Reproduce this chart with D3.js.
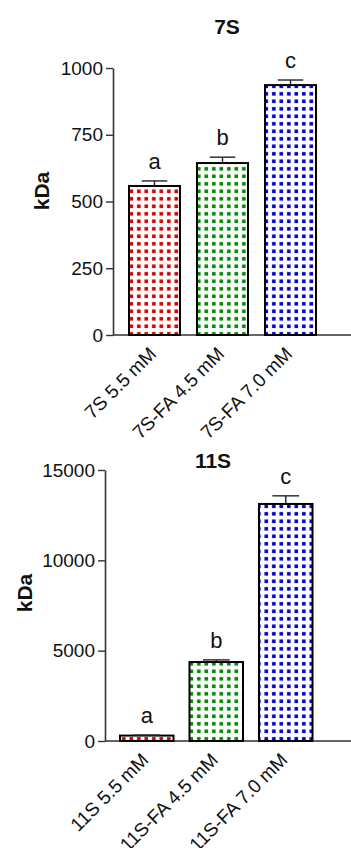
<!DOCTYPE html>
<html>
<head>
<meta charset="utf-8">
<script src="https://cdn.jsdelivr.net/npm/d3@7"></script>
<style>
  body { margin: 0; background: #fff; }
  text { font-family: Arial, "Liberation Sans", sans-serif; fill: #111; }
</style>
</head>
<body>
<svg id="chart" width="351" height="848"></svg>
<script>
// data
const labels7S = ['7S 5.5 mM', '7S-FA 4.5 mM', '7S-FA 7.0 mM'];
const values7S = [558, 644, 936];
const errors7S = [19, 22, 19];
const letters7S = ['a', 'b', 'c'];
const ticks7S = [0, 250, 500, 750, 1000];

const labels11S = ['11S 5.5 mM', '11S-FA 4.5 mM', '11S-FA 7.0 mM'];
const values11S = [300, 4370, 13120];
const errors11S = [25, 120, 450];
const letters11S = ['a', 'b', 'c'];
const ticks11S = [0, 5000, 10000, 15000];

const barColors = ['#d40000', '#008a00', '#0000d2'];

const svg = d3.select('#chart');
const defs = svg.append('defs');

// dotted fill, one pattern per colour
barColors.forEach((c, i) => {
    const p = defs.append('pattern')
        .attr('id', 'dots' + i)
        .attr('patternUnits', 'userSpaceOnUse')
        .attr('width', 7.5).attr('height', 7.5);
    p.append('rect').attr('width', 7.5).attr('height', 7.5).attr('fill', '#fff');
    p.append('rect').attr('x', 2).attr('y', 2).attr('width', 3.6).attr('height', 3.6).attr('fill', c);
});

function drawPanel(cfg) {
    const g = svg.append('g');

    const y = d3.scaleLinear().domain(cfg.domain).range([cfg.y0, cfg.y1]);
    const x = d3.scaleBand().domain(cfg.labels)
        .range(cfg.xr).paddingInner(cfg.pad).paddingOuter(cfg.pad / 2);

    // y axis
    const yAxis = g.append('g')
        .attr('transform', `translate(${cfg.left},0)`)
        .call(d3.axisLeft(y).tickValues(cfg.ticks).tickFormat(d3.format('d'))
            .tickSize(7).tickPadding(3).tickSizeOuter(0));
    yAxis.select('.domain').attr('stroke', '#333').attr('stroke-width', 1.6);
    yAxis.selectAll('.tick line').attr('stroke', '#333').attr('stroke-width', 1.4);
    yAxis.selectAll('.tick text').attr('font-size', 19).attr('fill', '#111')
        .attr('font-family', 'Arial, "Liberation Sans", sans-serif');

    // x axis line
    g.append('line')
        .attr('x1', cfg.left).attr('x2', 351)
        .attr('y1', cfg.y0).attr('y2', cfg.y0)
        .attr('stroke', '#333').attr('stroke-width', 1.6);

    const bars = g.selectAll('.bar').data(cfg.values).enter().append('g');

    bars.append('rect')
        .attr('x', (d, i) => x(cfg.labels[i]))
        .attr('y', d => y(d))
        .attr('width', x.bandwidth())
        .attr('height', d => cfg.y0 - y(d))
        .attr('fill', (d, i) => 'url(#dots' + i + ')')
        .attr('stroke', '#000').attr('stroke-width', 2);

    // error bars (upper only)
    bars.append('line')
        .attr('x1', (d, i) => x(cfg.labels[i]) + x.bandwidth() / 2)
        .attr('x2', (d, i) => x(cfg.labels[i]) + x.bandwidth() / 2)
        .attr('y1', d => y(d))
        .attr('y2', (d, i) => y(d + cfg.errors[i]))
        .attr('stroke', '#222').attr('stroke-width', 1.4);
    bars.append('line')
        .attr('x1', (d, i) => x(cfg.labels[i]) + x.bandwidth() / 4)
        .attr('x2', (d, i) => x(cfg.labels[i]) + x.bandwidth() * 3 / 4)
        .attr('y1', (d, i) => y(d + cfg.errors[i]))
        .attr('y2', (d, i) => y(d + cfg.errors[i]))
        .attr('stroke', '#222').attr('stroke-width', 1.4);

    // significance letters
    bars.append('text')
        .attr('x', (d, i) => x(cfg.labels[i]) + x.bandwidth() / 2)
        .attr('y', (d, i) => y(d + cfg.errors[i]) - 12)
        .attr('text-anchor', 'middle')
        .attr('font-size', 22)
        .text((d, i) => cfg.letters[i]);

    // rotated category labels
    g.selectAll('.xl').data(cfg.labels).enter().append('text')
        .attr('transform', d => `translate(${x(d) + x.bandwidth() / 2 + 3},${cfg.y0 + 20}) rotate(-45)`)
        .attr('text-anchor', 'end')
        .attr('font-size', 19)
        .text(d => d);

    // title
    g.append('text')
        .attr('x', cfg.titleX).attr('y', cfg.titleY)
        .attr('text-anchor', 'middle')
        .attr('font-size', 21).attr('font-weight', 'bold')
        .text(cfg.title);

    // y label
    g.append('text')
        .attr('transform', `translate(${cfg.ylabX},${cfg.ylabY}) rotate(-90)`)
        .attr('text-anchor', 'middle')
        .attr('font-size', 21).attr('font-weight', 'bold')
        .text('kDa');
}

drawPanel({
    title: '7S', titleX: 227, titleY: 34,
    labels: labels7S, values: values7S, errors: errors7S, letters: letters7S,
    ticks: ticks7S, domain: [0, 1000],
    left: 113, y0: 335, y1: 68,
    xr: [120.5, 324.5], pad: 0.25,
    ylabX: 49, ylabY: 191
});

drawPanel({
    title: '11S', titleX: 213, titleY: 468,
    labels: labels11S, values: values11S, errors: errors11S, letters: letters11S,
    ticks: ticks11S, domain: [0, 15000],
    left: 105, y0: 741, y1: 470,
    xr: [112, 320.5], pad: 0.23,
    ylabX: 32, ylabY: 593
});
</script>
</body>
</html>
